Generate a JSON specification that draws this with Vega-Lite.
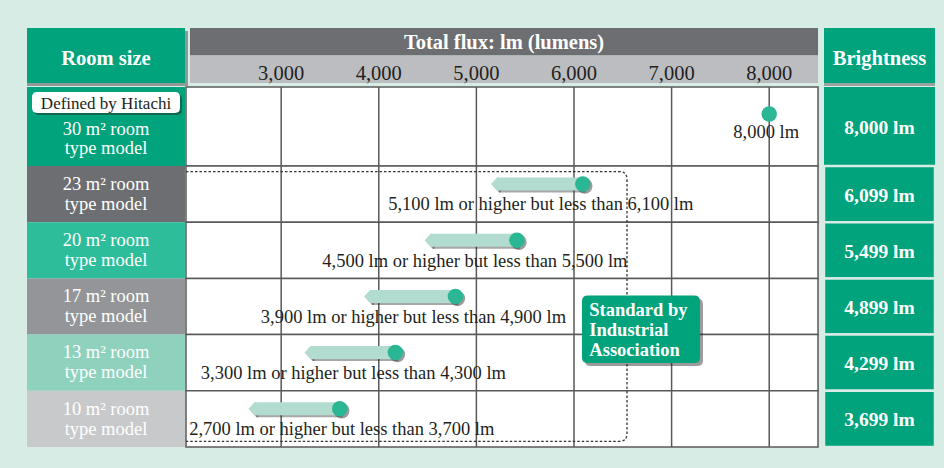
{
  "$schema": "https://vega.github.io/schema/vega-lite/v6.json",
  "background": "#d7ece5",
  "padding": {"left": 27, "top": 28, "right": 9, "bottom": 21},
  "config": {
    "view": {"stroke": null},
    "font": "Liberation Serif",
    "text": {"font": "Liberation Serif"}
  },
  "datasets": {
    "hitachi": [
      {"room": "30 m² room\ntype model", "tier": "Defined by Hitachi", "from": 8000, "to": 8000, "brightness": "8,000 lm", "range": "8,000 lm"}
    ],
    "standard": [
      {"room": "23 m² room\ntype model", "tier": "Standard by Industrial Association", "from": 5150, "to": 6090, "brightness": "6,099 lm", "range": "5,100 lm or higher but less than 6,100 lm"},
      {"room": "20 m² room\ntype model", "tier": "Standard by Industrial Association", "from": 4470, "to": 5415, "brightness": "5,499 lm", "range": "4,500 lm or higher but less than 5,500 lm"},
      {"room": "17 m² room\ntype model", "tier": "Standard by Industrial Association", "from": 3850, "to": 4785, "brightness": "4,899 lm", "range": "3,900 lm or higher but less than 4,900 lm"},
      {"room": "13 m² room\ntype model", "tier": "Standard by Industrial Association", "from": 3240, "to": 4170, "brightness": "4,299 lm", "range": "3,300 lm or higher but less than 4,300 lm"},
      {"room": "10 m² room\ntype model", "tier": "Standard by Industrial Association", "from": 2665, "to": 3600, "brightness": "3,699 lm", "range": "2,700 lm or higher but less than 3,700 lm"}
    ],
    "ticks": [{"lm": 3000}, {"lm": 4000}, {"lm": 5000}, {"lm": 6000}, {"lm": 7000}, {"lm": 8000}],
    "groups": [{"label": "Standard by\nIndustrial\nAssociation"}]
  },
  "columns": 3,
  "spacing": {"row": 0, "column": 1},
  "bounds": "flush",
  "resolve": {"scale": {"color": "independent", "x": "independent", "y": "independent"}},
  "concat": [
    {
      "width": 158, "height": 59,
      "data": {"values": [{"t": "Room size"}]},
      "layer": [
        {
          "mark": {"type": "rect", "fill": "#3a3a3a", "opacity": 0.45, "xOffset": 3, "x2Offset": 3, "yOffset": 3, "y2Offset": 3},
          "encoding": {"y": {"field": "t", "type": "nominal", "axis": null, "scale": {"type": "band", "paddingInner": 0, "paddingOuter": 0.03636, "align": 0}}}
        },
        {
          "mark": {"type": "rect", "fill": "#00a37b"},
          "encoding": {"y": {"field": "t", "type": "nominal"}}
        },
        {
          "mark": {"type": "text", "fontSize": 20.5, "fontWeight": "bold", "color": "white", "baseline": "middle", "dy": 3},
          "encoding": {"y": {"field": "t", "type": "nominal"}, "text": {"field": "t"}}
        }
      ]
    },
    {
      "width": 637, "height": 59,
      "layer": [
        {
          "data": {"values": [{"band": "title"}, {"band": "axis"}]},
          "mark": {"type": "rect"},
          "encoding": {
            "x": {"datum": 2066, "type": "quantitative", "axis": null, "scale": {"domain": [2025, 8551], "nice": false, "zero": false}},
            "x2": {"datum": 8500},
            "y": {"field": "band", "type": "nominal", "axis": null, "scale": {"type": "band", "domain": ["title", "axis"], "paddingInner": 0, "paddingOuter": 0.0727, "align": 0}},
            "color": {"field": "band", "type": "nominal", "legend": null, "scale": {"domain": ["title", "axis"], "range": ["#6d6e71", "#bcbdc0"]}}
          }
        },
        {
          "data": {"values": [{"band": "title", "t": "Total flux: lm (lumens)"}]},
          "mark": {"type": "text", "fontSize": 20.5, "fontWeight": "bold", "color": "white", "baseline": "middle", "dy": 1.5},
          "encoding": {
            "x": {"datum": 5283, "type": "quantitative"},
            "y": {"field": "band", "type": "nominal"},
            "text": {"field": "t"}
          }
        },
        {
          "data": {"name": "ticks"},
          "mark": {"type": "text", "fontSize": 20.5, "color": "#231f20", "baseline": "middle", "dy": 4.75},
          "encoding": {
            "x": {"field": "lm", "type": "quantitative"},
            "y": {"datum": "axis", "type": "nominal"},
            "text": {"field": "lm", "type": "quantitative", "format": ","}
          }
        }
      ]
    },
    {
      "width": 111, "height": 59,
      "data": {"values": [{"t": "Brightness"}]},
      "layer": [
        {
          "mark": {"type": "rect", "fill": "#3a3a3a", "opacity": 0.4, "yOffset": 3, "y2Offset": 3},
          "encoding": {"y": {"field": "t", "type": "nominal", "axis": null, "scale": {"type": "band", "paddingInner": 0, "paddingOuter": 0.03636, "align": 0}}}
        },
        {
          "mark": {"type": "rect", "fill": "#00a37b"},
          "encoding": {"y": {"field": "t", "type": "nominal"}}
        },
        {
          "mark": {"type": "text", "fontSize": 20.5, "fontWeight": "bold", "color": "white", "baseline": "middle", "dy": 3},
          "encoding": {"y": {"field": "t", "type": "nominal"}, "text": {"field": "t"}}
        }
      ]
    },
    {
      "width": 158, "height": 79,
      "view": {"fill": "#00a37b", "stroke": null},
      "data": {"name": "hitachi"},
      "layer": [
        {
          "mark": {"type": "point", "shape": "M -0.93,-0.142 L 0.93,-0.142 Q 1,-0.142 1,-0.072 L 1,0.072 Q 1,0.142 0.93,0.142 L -0.93,0.142 Q -1,0.142 -1,0.072 L -1,-0.072 Q -1,-0.142 -0.93,-0.142 Z", "size": 21904, "filled": true, "opacity": 0.45, "color": "#222", "strokeWidth": 0, "xOffset": 2, "yOffset": 2},
          "encoding": {"y": {"field": "room", "type": "nominal", "axis": null, "bandPosition": 0.196, "scale": {"type": "band", "paddingInner": 0, "paddingOuter": 0}}}
        },
        {
          "mark": {"type": "point", "shape": "M -0.93,-0.142 L 0.93,-0.142 Q 1,-0.142 1,-0.072 L 1,0.072 Q 1,0.142 0.93,0.142 L -0.93,0.142 Q -1,0.142 -1,0.072 L -1,-0.072 Q -1,-0.142 -0.93,-0.142 Z", "size": 21904, "filled": true, "opacity": 1, "color": "white", "strokeWidth": 0},
          "encoding": {"y": {"field": "room", "type": "nominal", "bandPosition": 0.196}}
        },
        {
          "mark": {"type": "text", "fontSize": 17, "color": "#231f20", "baseline": "middle", "dy": 1.5},
          "encoding": {"y": {"field": "room", "type": "nominal", "bandPosition": 0.196}, "text": {"field": "tier"}}
        },
        {
          "mark": {"type": "text", "fontSize": 18.5, "color": "white", "baseline": "middle", "lineBreak": "\n", "lineHeight": 18.5},
          "encoding": {"y": {"field": "room", "type": "nominal", "bandPosition": 0.537}, "text": {"field": "room"}}
        }
      ]
    },
    {
      "width": 637, "height": 79,
      "data": {"name": "hitachi"},
      "layer": [
        {
          "mark": {"type": "rect", "fill": "white", "stroke": "#595959", "strokeWidth": 1.5},
          "encoding": {
            "x": {"datum": 2025, "type": "quantitative", "axis": null, "scale": {"domain": [2025, 8551], "nice": false, "zero": false}},
            "x2": {"datum": 8500},
            "y": {"field": "room", "type": "nominal", "axis": null, "scale": {"type": "band", "paddingInner": 0, "paddingOuter": 0}}
          }
        },
        {
          "data": {"name": "ticks"},
          "mark": {"type": "rule", "color": "#595959", "strokeWidth": 1.5},
          "encoding": {"x": {"field": "lm", "type": "quantitative"}}
        },
        {
          "mark": {"type": "circle", "size": 240, "color": "#2bb794", "opacity": 1},
          "encoding": {
            "x": {"field": "to", "type": "quantitative"},
            "y": {"field": "room", "type": "nominal", "bandPosition": 0.342}
          }
        },
        {
          "mark": {"type": "text", "fontSize": 18.5, "color": "#231f20", "baseline": "alphabetic", "dx": -3},
          "encoding": {
            "x": {"field": "to", "type": "quantitative"},
            "y": {"field": "room", "type": "nominal", "bandPosition": 0.64},
            "text": {"field": "range"}
          }
        }
      ]
    },
    {
      "width": 111, "height": 79,
      "view": {"fill": "#00a37b", "stroke": null},
      "data": {"name": "hitachi"},
      "mark": {"type": "text", "fontSize": 19.5, "fontWeight": "bold", "color": "white", "baseline": "middle", "dy": 1},
      "encoding": {"text": {"field": "brightness"}}
    },
    {
      "width": 158, "height": 281,
      "data": {"name": "standard"},
      "layer": [
        {
          "mark": {"type": "rect"},
          "encoding": {
            "y": {"field": "room", "type": "nominal", "axis": null, "sort": null, "scale": {"paddingInner": 0, "paddingOuter": 0}},
            "color": {"field": "room", "type": "nominal", "legend": null, "scale": {"domain": ["23 m² room\ntype model", "20 m² room\ntype model", "17 m² room\ntype model", "13 m² room\ntype model", "10 m² room\ntype model"], "range": ["#6d6e71", "#2ebd9b", "#939598", "#8ed1bd", "#c8c9cb"]}}
          }
        },
        {
          "mark": {"type": "text", "fontSize": 18.5, "color": "white", "baseline": "middle", "lineBreak": "\n", "lineHeight": 20},
          "encoding": {
            "y": {"field": "room", "type": "nominal", "sort": null, "bandPosition": 0.316},
            "text": {"field": "room"}
          }
        }
      ]
    },
    {
      "width": 637, "height": 281,
      "data": {"name": "standard"},
      "layer": [
        {
          "mark": {"type": "rect", "fill": "white", "stroke": "#595959", "strokeWidth": 1.5},
          "encoding": {
            "x": {"datum": 2025, "type": "quantitative", "axis": null, "scale": {"domain": [2025, 8551], "nice": false, "zero": false}},
            "x2": {"datum": 8500},
            "y": {"field": "room", "type": "nominal", "axis": null, "scale": {"domain": ["23 m² room\ntype model", "20 m² room\ntype model", "17 m² room\ntype model", "13 m² room\ntype model", "10 m² room\ntype model"], "paddingInner": 0, "paddingOuter": 0}}
          }
        },
        {
          "data": {"name": "ticks"},
          "mark": {"type": "rule", "color": "#595959", "strokeWidth": 1.5},
          "encoding": {"x": {"field": "lm", "type": "quantitative"}}
        },
        {
          "data": {"name": "groups"},
          "mark": {"type": "point", "shape": "M -1,-0.612 L 0.964,-0.612 Q 1,-0.612 1,-0.576 L 1,0.576 Q 1,0.612 0.964,0.612 L -1,0.612", "size": 194481, "filled": false, "opacity": 1, "stroke": "#333333", "strokeWidth": 1.3, "strokeDash": [2.5, 2]},
          "encoding": {
            "x": {"datum": 4284, "type": "quantitative"},
            "y": {"datum": "17 m² room\ntype model", "type": "nominal", "bandPosition": 0.5}
          }
        },
        {
          "mark": {"type": "rule", "color": "#222", "opacity": 0.4, "strokeWidth": 13, "strokeCap": "butt", "xOffset": 8, "x2Offset": 3, "yOffset": 2},
          "encoding": {
            "x": {"field": "from", "type": "quantitative"},
            "x2": {"field": "to"},
            "y": {"field": "room", "type": "nominal", "bandPosition": 0.32}
          }
        },
        {
          "mark": {"type": "point", "shape": "M 0,0 L 0.92,-1 L 1.2,-1 L 1.2,1 L 0.92,1 Z", "size": 169, "filled": true, "opacity": 0.4, "color": "#222", "strokeWidth": 0, "xOffset": 2, "yOffset": 2},
          "encoding": {
            "x": {"field": "from", "type": "quantitative"},
            "y": {"field": "room", "type": "nominal", "bandPosition": 0.32}
          }
        },
        {
          "mark": {"type": "circle", "size": 240, "color": "#222", "opacity": 0.45, "xOffset": 2, "yOffset": 2},
          "encoding": {
            "x": {"field": "to", "type": "quantitative"},
            "y": {"field": "room", "type": "nominal", "bandPosition": 0.32}
          }
        },
        {
          "mark": {"type": "rule", "color": "#b2dccf", "strokeWidth": 13, "strokeCap": "butt", "xOffset": 6},
          "encoding": {
            "x": {"field": "from", "type": "quantitative"},
            "x2": {"field": "to"},
            "y": {"field": "room", "type": "nominal", "bandPosition": 0.32}
          }
        },
        {
          "mark": {"type": "point", "shape": "M 0,0 L 0.92,-1 L 1.2,-1 L 1.2,1 L 0.92,1 Z", "size": 169, "filled": true, "opacity": 1, "color": "#b2dccf", "strokeWidth": 0},
          "encoding": {
            "x": {"field": "from", "type": "quantitative"},
            "y": {"field": "room", "type": "nominal", "bandPosition": 0.32}
          }
        },
        {
          "mark": {"type": "circle", "size": 240, "color": "#2bb794", "opacity": 1},
          "encoding": {
            "x": {"field": "to", "type": "quantitative"},
            "y": {"field": "room", "type": "nominal", "bandPosition": 0.32}
          }
        },
        {
          "transform": [{"filter": {"field": "from", "gte": 3000}}],
          "mark": {"type": "text", "fontSize": 18.5, "color": "#231f20", "align": "center", "baseline": "alphabetic", "dx": -42},
          "encoding": {
            "x": {"field": "to", "type": "quantitative"},
            "y": {"field": "room", "type": "nominal", "bandPosition": 0.79},
            "text": {"field": "range"}
          }
        },
        {
          "transform": [{"filter": {"field": "from", "lt": 3000}}],
          "mark": {"type": "text", "fontSize": 18.5, "color": "#231f20", "align": "center", "baseline": "alphabetic", "dx": 2},
          "encoding": {
            "x": {"field": "to", "type": "quantitative"},
            "y": {"field": "room", "type": "nominal", "bandPosition": 0.79},
            "text": {"field": "range"}
          }
        },
        {
          "data": {"name": "groups"},
          "mark": {"type": "point", "shape": "M -0.9,-0.573 L 0.9,-0.573 Q 1,-0.573 1,-0.473 L 1,0.473 Q 1,0.573 0.9,0.573 L -0.9,0.573 Q -1,0.573 -1,0.473 L -1,-0.473 Q -1,-0.573 -0.9,-0.573 Z", "size": 13924, "filled": true, "opacity": 0.45, "color": "#222", "strokeWidth": 0, "xOffset": 3, "yOffset": 3},
          "encoding": {
            "x": {"datum": 6686, "type": "quantitative"},
            "y": {"datum": "17 m² room\ntype model", "type": "nominal", "bandPosition": 0.906}
          }
        },
        {
          "data": {"name": "groups"},
          "mark": {"type": "point", "shape": "M -0.9,-0.573 L 0.9,-0.573 Q 1,-0.573 1,-0.473 L 1,0.473 Q 1,0.573 0.9,0.573 L -0.9,0.573 Q -1,0.573 -1,0.473 L -1,-0.473 Q -1,-0.573 -0.9,-0.573 Z", "size": 13924, "filled": true, "opacity": 1, "color": "#00a37b", "strokeWidth": 0},
          "encoding": {
            "x": {"datum": 6686, "type": "quantitative"},
            "y": {"datum": "17 m² room\ntype model", "type": "nominal", "bandPosition": 0.906}
          }
        },
        {
          "data": {"name": "groups"},
          "mark": {"type": "text", "fontSize": 18.5, "fontWeight": "bold", "color": "white", "align": "left", "baseline": "middle", "lineBreak": "\n", "lineHeight": 20},
          "encoding": {
            "x": {"datum": 6157, "type": "quantitative"},
            "y": {"datum": "17 m² room\ntype model", "type": "nominal", "bandPosition": 0.56},
            "text": {"field": "label"}
          }
        }
      ]
    },
    {
      "width": 111, "height": 281,
      "data": {"name": "standard"},
      "layer": [
        {
          "mark": {"type": "rect", "fill": "#00a37b", "stroke": "#d7ece5", "strokeWidth": 2.5},
          "encoding": {"y": {"field": "room", "type": "nominal", "axis": null, "sort": null, "scale": {"paddingInner": 0, "paddingOuter": 0}}}
        },
        {
          "mark": {"type": "text", "fontSize": 19.5, "fontWeight": "bold", "color": "white", "baseline": "middle", "dy": 1.5},
          "encoding": {
            "y": {"field": "room", "type": "nominal", "sort": null},
            "text": {"field": "brightness"}
          }
        }
      ]
    }
  ]
}
